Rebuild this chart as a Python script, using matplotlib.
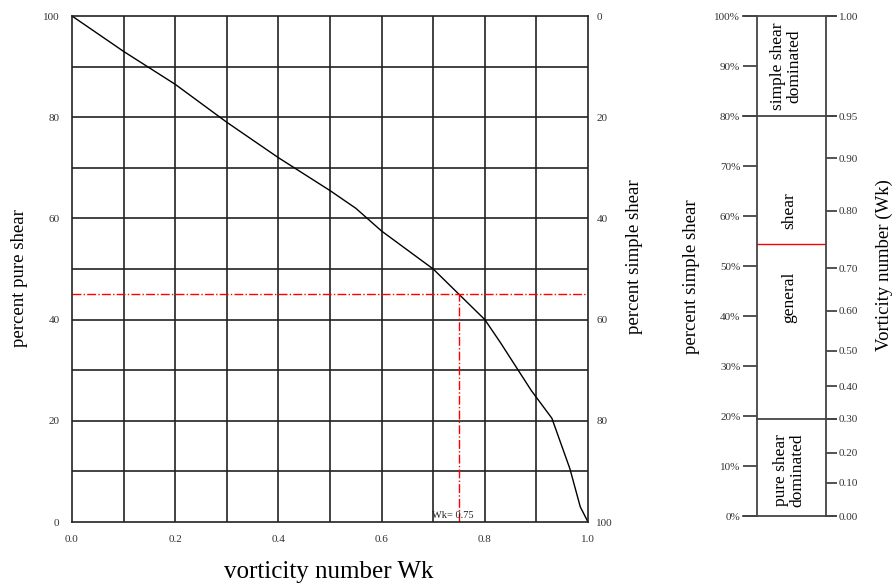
import matplotlib
matplotlib.use('Agg')
import matplotlib.pyplot as plt

plt.rcParams['font.family'] = ['Liberation Serif', 'DejaVu Serif']

# Left chart: percent pure shear against vorticity number
wk = [0.0, 0.1, 0.2, 0.3, 0.4, 0.5, 0.55, 0.6, 0.7, 0.75, 0.8, 0.83, 0.89, 0.93, 0.965, 0.985, 1.0]
pure_shear = [100, 93, 86.5, 79, 72, 65.5, 62, 57.5, 50, 45, 40, 35.5, 26, 20.5, 10.5, 3, 0]
wk_mark = 0.75
pure_mark = 45

x_ticks = [0.0, 0.2, 0.4, 0.6, 0.8, 1.0]
y_ticks = [0, 20, 40, 60, 80, 100]

# Right scale bar: percent simple shear vs Wk
pct_ticks = [0, 10, 20, 30, 40, 50, 60, 70, 80, 90, 100]
wk_labels = ['0.00', '0.10', '0.20', '0.30', '0.40', '0.50', '0.60', '0.70', '0.80', '0.90', '0.95', '1.00']
wk_pos = [0, 6.7, 12.7, 19.5, 26, 33, 41, 49.6, 61, 71.6, 80, 100]
bounds = [19.5, 80]
red_level = 54.4

fig = plt.figure(figsize=(8.95, 5.84), dpi=100)
tick_col = '#333333'
line_col = '#222222'

ax = fig.add_axes([72/895, 1-522/584, 516/895, 506/584])
ax.set_xlim(0, 1)
ax.set_ylim(0, 100)
for v in [i/10 for i in range(1, 10)]:
    ax.axvline(v, color=line_col, lw=1.2)
for v in range(10, 100, 10):
    ax.axhline(v, color=line_col, lw=1.2)
for s in ax.spines.values():
    s.set_color(line_col)
    s.set_linewidth(1.2)
ax.plot(wk, pure_shear, color='black', lw=1)
ax.plot([0, 1], [pure_mark, pure_mark], color='red', ls='-.', lw=1)
ax.plot([wk_mark, wk_mark], [0, pure_mark], color='red', ls='-.', lw=1)
ax.text(0.698, 0.4, 'Wk= 0.75', fontsize=7.5, va='bottom', ha='left', color='#222222')
ax.set_xticks(x_ticks)
ax.set_yticks(y_ticks)
ax.tick_params(length=0, labelsize=8, labelcolor=tick_col)
ax.tick_params(axis='y', pad=9)
ax.tick_params(axis='x', pad=9)

ax2 = ax.twinx()
ax2.set_ylim(100, 0)
ax2.set_yticks(y_ticks)
ax2.tick_params(length=0, labelsize=8, labelcolor=tick_col, pad=6)
for s in ax2.spines.values():
    s.set_visible(False)

fig.text(20/895, 1-278/584, 'percent pure shear', rotation=90, fontsize=13.5, ha='center', va='center')
fig.text(635/895, 1-257/584, 'percent simple shear', rotation=90, fontsize=13.5, ha='center', va='center')
fig.text(329/895, 1-572/584, 'vorticity number Wk', fontsize=18, ha='center', va='center')

# scale bar on the right
bx = fig.add_axes([757/895, 1-516/584, 69/895, 500/584])
bx.set_xlim(0, 1)
bx.set_ylim(0, 100)
bx.set_xticks([])
for s in bx.spines.values():
    s.set_color('#444444')
    s.set_linewidth(1.3)
bx.spines['top'].set_visible(False)
bx.spines['bottom'].set_visible(False)
bx.set_yticks(pct_ticks)
bx.set_yticklabels([f'{p}%' for p in pct_ticks])
bx.tick_params(axis='y', length=10, width=1.3, color='#444444', labelsize=8, labelcolor=tick_col, pad=2)
for lvl in [0, bounds[1], 100]:
    bx.plot([-0.2, 1.15], [lvl, lvl], color='#444444', lw=1.3, clip_on=False)
bx.plot([0, 1.15], [bounds[0], bounds[0]], color='#444444', lw=1.3, clip_on=False)
bx.plot([0, 1], [red_level, red_level], color='red', lw=1)

bx2 = bx.twinx()
bx2.set_ylim(0, 100)
bx2.set_yticks(wk_pos)
bx2.set_yticklabels(wk_labels)
bx2.tick_params(axis='y', length=8, width=1.3, color='#444444', labelsize=8, labelcolor=tick_col, pad=1)
for s in bx2.spines.values():
    s.set_visible(False)

bx.text(0.42, 90, 'simple shear\ndominated', rotation=90, fontsize=12.5, ha='center', va='center', linespacing=1.05)
bx.text(0.47, 61, 'shear', rotation=90, fontsize=12.5, ha='center', va='center')
bx.text(0.47, 43.8, 'general', rotation=90, fontsize=12.5, ha='center', va='center')
bx.text(0.47, 9.2, 'pure shear\ndominated', rotation=90, fontsize=12.5, ha='center', va='center', linespacing=1.05)

fig.text(692/895, 1-277/584, 'percent simple shear', rotation=90, fontsize=13.5, ha='center', va='center')
fig.text(884/895, 1-265/584, 'Vorticity number (Wk)', rotation=90, fontsize=13.5, ha='center', va='center')

fig.savefig('out.png', dpi=100)
